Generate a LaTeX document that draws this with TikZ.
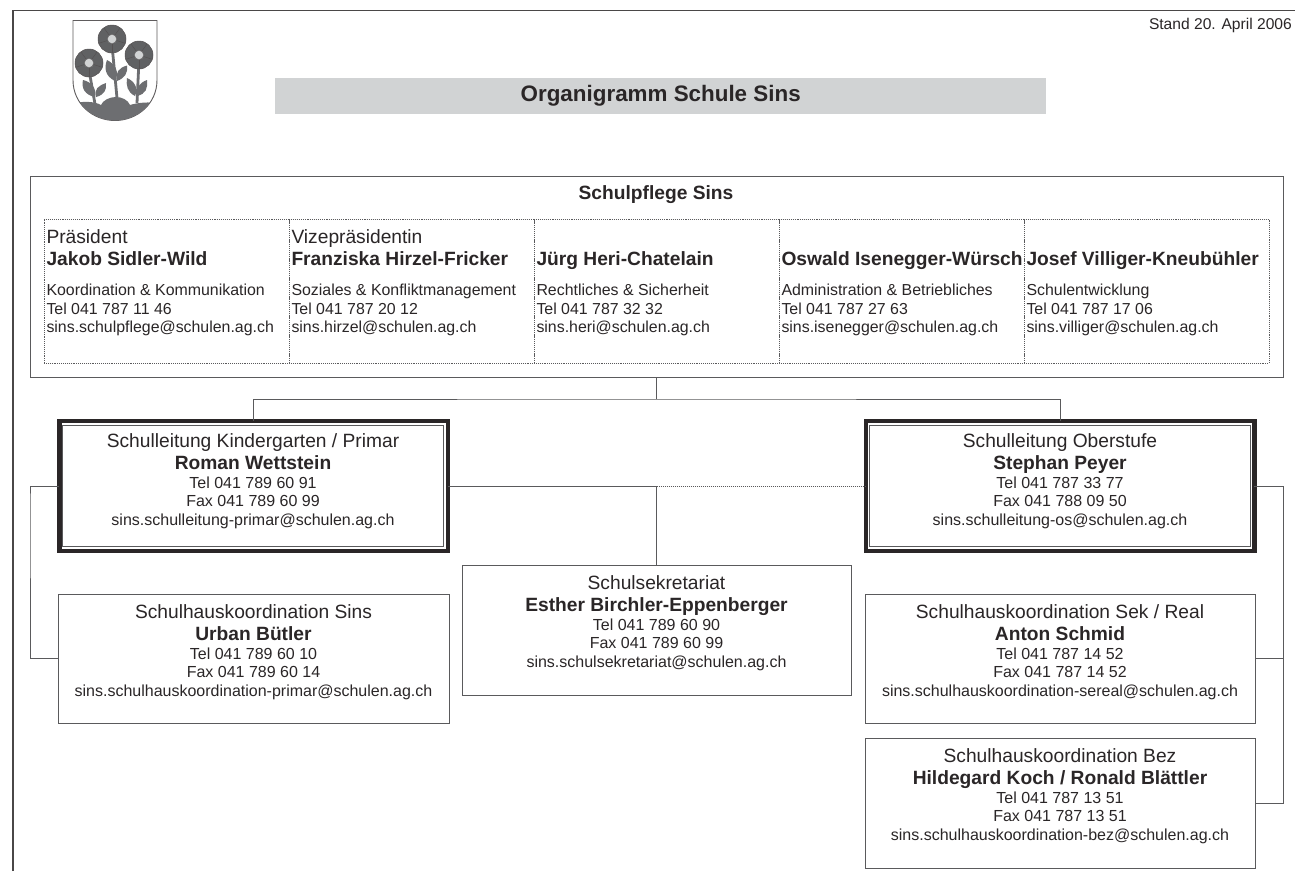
\documentclass[tikz,border=0pt]{standalone}
\usepackage{fontspec}
\setmainfont{Liberation Sans}
\definecolor{ink}{HTML}{2A2627}
\definecolor{rulec}{HTML}{5A5A5C}
\definecolor{crest}{HTML}{6D6E71}
\definecolor{bar}{HTML}{D1D3D4}
\newcommand{\fs}[1]{\fontsize{#1}{#1}\selectfont}
% width, height, first-baseline, title, name, tel, fax, mail
\newcommand{\orgtext}[8]{\parbox[c][#2pt][t]{#1pt}{\centering\color{ink}%
 \fontsize{19.2}{22}\selectfont\rule{0pt}{#3pt}#4\par
 \fontsize{19.2}{22}\selectfont\bfseries #5\par
 \mdseries\fontsize{16}{19}\selectfont #6\par
 \fontsize{16}{18.5}\selectfont #7\par
 #8\par}}
\newcommand{\celltext}[5]{\parbox[c][144pt][t]{245pt}{\raggedright\color{ink}\hspace*{2.5pt}%
 \fontsize{19.2}{22}\selectfont\rule{0pt}{24pt}#1\par
 \hspace*{2.5pt}\bfseries\fontsize{19.2}{22}\selectfont #2\par
 \mdseries\hspace*{2.5pt}\fontsize{15.9}{30.5}\selectfont #3\par
 \hspace*{2.5pt}\fontsize{15.9}{18.5}\selectfont #4\par
 \hspace*{2.5pt}#5\par}}
\tikzset{
 pic/.style={x=1pt,y=-1pt},
 plainbox/.style={draw=rulec,line width=1pt,fill=white,inner sep=0pt,outer sep=0pt,anchor=north west},
 heavybox/.style={draw=ink,line width=4.4pt,fill=white,inner sep=0pt,outer sep=0pt,anchor=north west,minimum width=388.5pt,minimum height=129.6pt},
 thinbox/.style={draw=rulec,line width=1.1pt,inner sep=0pt,outer sep=0pt,anchor=north west},
 cellbox/.style={draw=rulec,line width=.9pt,densely dotted,inner sep=0pt,outer sep=0pt,anchor=north west},
 conn/.style={draw=rulec,line width=1pt},
 dotconn/.style={draw=rulec,line width=1pt,densely dotted},
 stem/.style={draw=crest,line width=2.8pt},
 leaf/.style={fill=crest,draw=none},
}
\begin{document}
\begin{tikzpicture}[pic]
\useasboundingbox (0,0) rectangle (1295,871);
\fill[white] (0,0) rectangle (1295,871);
% outer frame
\coordinate (fa) at (13,871);
\coordinate (fb) at (13,10.5);
\coordinate (fc) at (1295,10.5);
\draw[draw=ink!85,line width=1.1pt] (fa) -- (fb) -- (fc);
% crest
\begin{scope}
\draw[draw=ink!75,line width=.9pt] (73,20.5) -- (157,20.5) -- (157,80) .. controls (157,104) and (137,120.5) .. (115,120.5) .. controls (93,120.5) and (73,104) .. (73,80) -- cycle;
\clip (73,20.5) -- (157,20.5) -- (157,80) .. controls (157,104) and (137,120.5) .. (115,120.5) .. controls (93,120.5) and (73,104) .. (73,80) -- cycle;
\fill[crest] (70,104) .. controls (82,101) and (94,101) .. (101,105) .. controls (103,100) and (110,97) .. (116,97) .. controls (122,97) and (128,100) .. (130,105) .. controls (136,103) and (150,101) .. (160,104) -- (160,125) -- (70,125) -- cycle;
\end{scope}
\draw[stem] (112,45) -- (117,98);
\draw[stem] (89,70) -- (95,104);
\draw[stem] (139,60) -- (137,103);
\fill[leaf] (115,81) .. controls (105,76) and (104,68) .. (107,60) .. controls (115,64) and (120,72) .. (115,81) -- cycle;
\fill[leaf] (117,81) .. controls (115,72) and (119,68) .. (127,65.5) .. controls (128,73) and (125,78) .. (117,81) -- cycle;
\fill[leaf] (95,97) .. controls (85,95) and (81,88) .. (83,80) .. controls (91,82) and (97,88) .. (95,97) -- cycle;
\fill[leaf] (96,97) .. controls (94,89) and (98,86) .. (106,83) .. controls (107,90) and (104,95) .. (96,97) -- cycle;
\fill[leaf] (135,96) .. controls (127,92) and (126,85) .. (127,78) .. controls (134,81) and (139,88) .. (135,96) -- cycle;
\fill[leaf] (137,96) .. controls (136,88) and (139,83) .. (147,80) .. controls (148,88) and (146,94) .. (137,96) -- cycle;
\foreach \cx/\cy in {112/39,89/63,139/55}{
 \fill[crest!88!black,draw=ink!80,line width=.5pt] (\cx,\cy) circle (14pt);
 \foreach \a in {54,126,198,270,342}{
  \draw[ink!80,line width=.5pt] (\cx,\cy) ++(\a:5pt) -- ++(\a:9pt);
 }
 \fill[bar,draw=ink!70,line width=.4pt] (\cx,\cy) circle (4.6pt);
}
% header
\node[anchor=base east,inner sep=0pt,text=ink,font=\fs{15.6}] (stand) at (1292,29) {Stand 20. April 2006};
\node[fill=bar,inner sep=0pt,anchor=north west,minimum width=771pt,minimum height=36pt,text=ink,font=\fs{22.4}\bfseries] (titlebar) at (275,78) {Organigramm Schule Sins};
% Schulpflege
\node[plainbox,minimum width=1253pt,minimum height=201pt] (pflege) at (30,176) {};
\node[anchor=base,inner sep=0pt,text=ink,font=\fs{19.2}\bfseries] (pflegetitle) at (656,199) {Schulpflege Sins};
\node[cellbox] (c1) at (44,219) {\celltext{Präsident}{Jakob Sidler-Wild}{Koordination \& Kommunikation}{Tel 041 787 11 46}{sins.schulpflege@schulen.ag.ch}};
\node[cellbox] (c2) at (289,219) {\celltext{Vizepräsidentin}{Franziska Hirzel-Fricker}{Soziales \& Konfliktmanagement}{Tel 041 787 20 12}{sins.hirzel@schulen.ag.ch}};
\node[cellbox] (c3) at (534,219) {\celltext{\vphantom{P}}{Jürg Heri-Chatelain}{Rechtliches \& Sicherheit}{Tel 041 787 32 32}{sins.heri@schulen.ag.ch}};
\node[cellbox] (c4) at (779,219) {\celltext{\vphantom{P}}{Oswald Isenegger-Würsch}{Administration \& Betriebliches}{Tel 041 787 27 63}{sins.isenegger@schulen.ag.ch}};
\node[cellbox] (c5) at (1024,219) {\celltext{\vphantom{P}}{Josef Villiger-Kneubühler}{Schulentwicklung}{Tel 041 787 17 06}{sins.villiger@schulen.ag.ch}};
% Schulleitungen
\node[heavybox] (kg) at (59.3,421.2) {};
\node[thinbox] (kgin) at (62.5,425.5) {\orgtext{381}{121}{21.5}{Schulleitung Kindergarten / Primar}{Roman Wettstein}{Tel 041 789 60 91}{Fax 041 789 60 99}{sins.schulleitung-primar@schulen.ag.ch}};
\node[heavybox] (os) at (865.8,421.2) {};
\node[thinbox] (osin) at (869.5,425.5) {\orgtext{381}{121}{21.5}{Schulleitung Oberstufe}{Stephan Peyer}{Tel 041 787 33 77}{Fax 041 788 09 50}{sins.schulleitung-os@schulen.ag.ch}};
% lower boxes
\node[plainbox] (sins) at (58,594) {\orgtext{391}{129}{24}{Schulhauskoordination Sins}{Urban Bütler}{Tel 041 789 60 10}{Fax 041 789 60 14}{sins.schulhauskoordination-primar@schulen.ag.ch}};
\node[plainbox] (sek) at (462,565) {\orgtext{389}{130}{24}{Schulsekretariat}{Esther Birchler-Eppenberger}{Tel 041 789 60 90}{Fax 041 789 60 99}{sins.schulsekretariat@schulen.ag.ch}};
\node[plainbox] (sr) at (865,594) {\orgtext{390}{129.5}{24}{Schulhauskoordination Sek / Real}{Anton Schmid}{Tel 041 787 14 52}{Fax 041 787 14 52}{sins.schulhauskoordination-sereal@schulen.ag.ch}};
\node[plainbox] (bez) at (865,738) {\orgtext{390}{130}{24}{Schulhauskoordination Bez}{Hildegard Koch / Ronald Blättler}{Tel 041 787 13 51}{Fax 041 787 13 51}{sins.schulhauskoordination-bez@schulen.ag.ch}};
% connectors
\coordinate (bus) at (pflege.south |- 0,399);
\coordinate (mid) at (sek.north |- kg.east);
\coordinate (lb) at (30,500);
\coordinate (rb) at (1283,500);
\draw[conn] (pflege.south) -- (bus);
\draw[conn] (kg.north) |- (bus) -| (os.north);
\draw[conn] (kg.east) -- (mid) -- (sek.north);
\draw[dotconn] (mid) -- (os.west);
\draw[conn] (kg.west) -| (lb) |- (sins.west);
\draw[conn] (os.east) -| (rb) |- (bez.east);
\draw[conn] (sr.east) -- (rb |- sr.east);
\end{tikzpicture}
\end{document}
